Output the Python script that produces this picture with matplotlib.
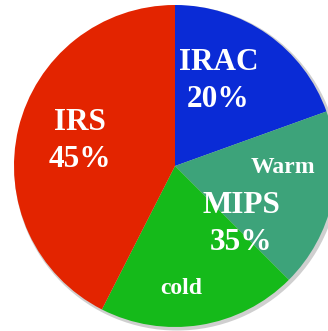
import matplotlib.pyplot as plt

# wedge shares (clockwise from 12 o'clock)
segments = ['IRAC', 'Warm MIPS', 'cold MIPS', 'IRS']
shares = [19.5, 18.0, 20.0, 42.5]
colors = ['#0A2BD6', '#3DA37A', '#15BA1A', '#E32400']

# text written on the pie
labels = ['IRAC\n20%', 'IRS\n45%', 'MIPS\n35%', 'Warm', 'cold']
label_pos = [(0.27, 0.53), (-0.59, 0.155), (0.41, -0.36), (0.67, -0.01), (0.04, -0.76)]
label_size = [22.5, 22.5, 22.5, 17, 17]

fig = plt.figure(figsize=(3.28, 3.31), dpi=100)
ax = fig.add_axes([0, 0, 1, 1])

# soft shadow under the pie
ax.pie([1], colors=['#cfcfcf'], radius=1.01, center=(0.012, -0.012),
       wedgeprops=dict(linewidth=0))
ax.pie(shares, colors=colors, startangle=90, counterclock=False, radius=1.0,
       wedgeprops=dict(linewidth=0))

for txt, (x, y), fs in zip(labels, label_pos, label_size):
    ax.text(x, y, txt, ha='center', va='center', color='white', fontsize=fs,
            fontweight='bold', family='Liberation Serif', linespacing=1.35)

ax.set_xlim(-175 / 161, 153 / 161)
ax.set_ylim(-165 / 161, 166 / 161)
ax.set_aspect('auto')
ax.axis('off')

fig.savefig('out.png', dpi=100)
